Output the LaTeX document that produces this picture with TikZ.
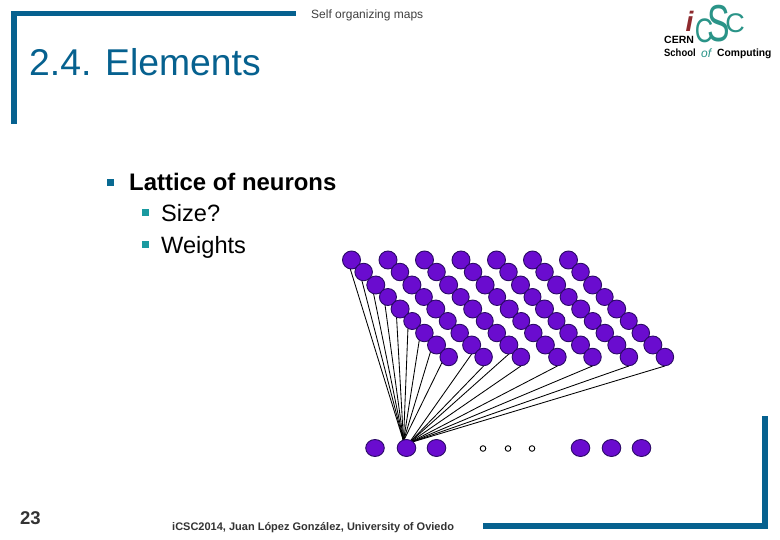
\documentclass[tikz,border=0pt]{standalone}
\usepackage{fontspec}
\setmainfont{Liberation Sans}
\usetikzlibrary{shapes.geometric,backgrounds}
\definecolor{framec}{HTML}{06618F}
\definecolor{tealc}{HTML}{1A9AA0}
\definecolor{neuronf}{HTML}{6A0CCF}
\definecolor{neurond}{HTML}{2B0A66}
\definecolor{logot}{HTML}{2A9488}
\definecolor{logor}{HTML}{8E2A2E}
\tikzset{
  neuron/.style={ellipse,draw=neurond,fill=neuronf,line width=0.9pt,inner sep=0pt},
  inneuron/.style={neuron,minimum width=18.6pt,minimum height=17pt},
  dotn/.style={circle,draw=black,fill=white,line width=0.9pt,minimum size=5.6pt,inner sep=0pt},
  wire/.style={draw=black,line width=0.85pt},
  frameb/.style={fill=framec,draw=none},
  txt/.style={inner sep=0pt,anchor=base west,text=black},
}
\begin{document}
\begin{tikzpicture}[x=1pt,y=-1pt]
\useasboundingbox (0,0) rectangle (780,540);
% frame
\fill[frameb] (11,11) rectangle (296,16.5);
\fill[frameb] (11,11) rectangle (17,124);
\fill[frameb] (483,523) rectangle (767,529);
\fill[frameb] (762,416) rectangle (768,529);
% texts
\node[txt,text=black!75] (hdr) at (311,19) {\fontsize{12}{14}\selectfont Self organizing maps};
\node[txt,text=framec] (title) at (29,76) {\fontsize{37.3}{42}\selectfont 2.4. Elements};
\node[txt] (l1) at (129,190.5) {\fontsize{23.9}{28}\selectfont\bfseries Lattice of neurons};
\node[txt] (l2) at (161,222) {\fontsize{23.6}{28}\selectfont Size?};
\node[txt] (l3) at (161,253.5) {\fontsize{23.6}{28}\selectfont Weights};
\fill[framec!85!tealc] (106.5,179) rectangle (113.5,186);
\fill[tealc] (142,209.5) rectangle (149,216.5);
\fill[tealc] (142,241.5) rectangle (149,248.5);
\node[txt,text=black!80] (pg) at (20,524) {\fontsize{18.5}{22}\selectfont\bfseries 23};
\node[txt,text=black!80] (ftr) at (172,530) {\fontsize{11}{14}\selectfont\bfseries iCSC2014, Juan López González, University of Oviedo};
% logo
\node[inner sep=0pt,text=logor] (li) at (689.5,21) {\fontsize{28}{30}\selectfont\itshape\bfseries i};
\node[inner sep=0pt,text=logot,xscale=0.75] (lc1) at (704,31) {\fontsize{34}{34}\selectfont C};
\node[inner sep=0pt,text=logot,xscale=0.65] (ls) at (719,24) {\fontsize{52}{52}\selectfont S};
\node[inner sep=0pt,text=logot] (lc2) at (735,23) {\fontsize{27}{30}\selectfont C};
\node[txt] (lcern) at (664,44) {\fontsize{10.5}{12}\selectfont\bfseries CERN};
\node[txt,xscale=0.9] (lsch) at (664,57) {\fontsize{10.5}{12}\selectfont\bfseries School};
\node[txt,text=logot] (lof) at (701,57.5) {\fontsize{12}{12}\selectfont\itshape of};
\node[txt,xscale=0.98] (lcomp) at (717,57) {\fontsize{10.5}{12}\selectfont\bfseries Computing};
% bottom layer
\node[inneuron] (b1) at (375,448) {};
\node[inneuron] (b2) at (406.5,448) {};
\node[inneuron] (b3) at (436.5,448) {};
\node[dotn] (d1) at (483,448.5) {};
\node[dotn] (d2) at (508,448.5) {};
\node[dotn] (d3) at (532,448.5) {};
\node[inneuron] (b4) at (580.5,448) {};
\node[inneuron] (b5) at (611.5,448) {};
\node[inneuron] (b6) at (641.5,448) {};
\coordinate (hubL) at (403.5,441);
\coordinate (hubR) at (409,443);
% lattice neurons
\foreach \c/\xz/\st in {1/351.5/12.15,2/388/11.95,3/424.5/12.05,4/461/12.05,5/496.5/12,6/532.5/12.05,7/568.5/12.05}{
  \foreach \r/\yy/\dd in {1/260/18,2/272/17.5,3/285/18,4/297/17,5/309/18,6/321/17,7/333/17.5,8/345/18,9/357/17.5}{
    \node[neuron,minimum width=\dd pt,minimum height=\dd pt] (n-\c-\r) at ({\xz+\st*(\r-1)},\yy) {};
  }
}
% wires
\begin{scope}[on background layer]
\fill[white] (0,0) rectangle (780,540);
\foreach \r in {1,...,9}{ \draw[wire] ([xshift=-4pt]n-1-\r.center) -- (hubL); }
\foreach \c in {2,...,7}{ \draw[wire] ([yshift=-9pt]n-\c-9.center) -- (hubR); }
\foreach \c in {2,3}{ \draw[wire] ([yshift=-9pt]n-\c-8.center) -- (hubR); }
\end{scope}
\end{tikzpicture}
\end{document}
